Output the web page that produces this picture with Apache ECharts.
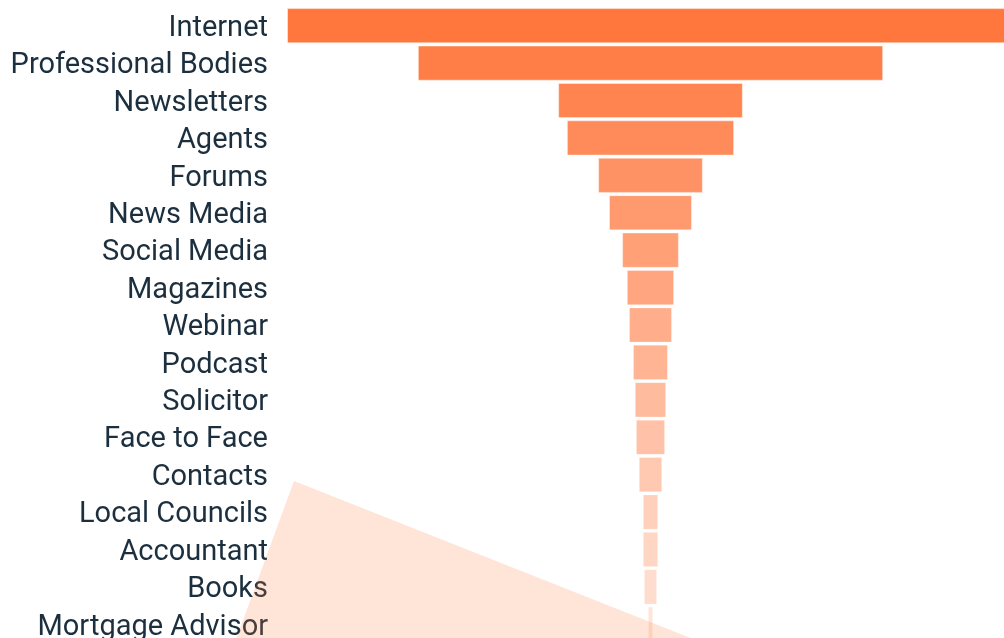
<!DOCTYPE html>
<html>
<head>
<meta charset="utf-8">
<script src="https://cdn.jsdelivr.net/npm/echarts@6/dist/echarts.min.js"></script>
<style>
  html, body { margin: 0; padding: 0; background: #fff; }
  #funnel { width: 1004px; height: 638px; }
</style>
</head>
<body>
<div id="funnel"></div>
<script>
// sources, top to bottom
const sources = ['Internet', 'Professional Bodies', 'Newsletters', 'Agents', 'Forums', 'News Media',
  'Social Media', 'Magazines', 'Webinar', 'Podcast', 'Solicitor', 'Face to Face', 'Contacts',
  'Local Councils', 'Accountant', 'Books', 'Mortgage Advisor']
// share, % of the largest
const shares = [100, 64, 25.4, 23, 14.4, 11.4, 7.8, 6.5, 5.9, 4.8, 4.3, 4.0, 3.2, 2.1, 2.1, 1.8, 0.7]
// the pale wedge in the lower left
const wedge = [88.5, 271.5]

const maxShare = 100
const orange = '#ff773d'

const myChart = echarts.init(document.getElementById('funnel'))

const option = {
  animation: false,
  grid: {
    left: 287,
    top: 7,
    width: 727,
    height: 636,
    outerBoundsMode: 'none'
  },
  xAxis: {
    type: 'value',
    min: 0,
    max: maxShare,
    show: false
  },
  yAxis: {
    type: 'category',
    inverse: true,
    data: sources,
    axisLine: { show: false },
    axisTick: { show: false },
    splitLine: { show: false },
    axisLabel: {
      interval: 0,
      margin: 19,
      formatter: '{src|{value}}',
      rich: {
        src: {
          padding: [6, 0, 0, 0],
          fontFamily: 'Roboto',
          fontSize: 29,
          color: '#1c2f3e'
        }
      }
    }
  },
  series: [
    {
      name: 'Placeholder',
      type: 'bar',
      stack: 'Total',
      silent: true,
      itemStyle: { color: 'transparent', borderColor: 'transparent' },
      data: shares.map(v => (maxShare - v) / 2)
    },
    {
      name: 'Share',
      type: 'bar',
      stack: 'Total',
      barCategoryGap: '6%',
      data: shares.map((v, i) => ({
        value: v,
        itemStyle: {
          color: orange,
          opacity: 1 - i * 0.05,
          borderColor: 'rgba(255,255,255,0.45)',
          borderWidth: 1
        }
      }))
    },
    {
      type: 'pie',
      silent: true,
      center: [294, 481],
      radius: [0, 700],
      startAngle: -21.6,
      label: { show: false },
      labelLine: { show: false },
      z: 1,
      data: [
        { value: wedge[0], itemStyle: { color: orange, opacity: 0.2 } },
        { value: wedge[1], itemStyle: { color: 'transparent' } }
      ]
    }
  ]
}

option && myChart.setOption(option)
</script>
</body>
</html>
